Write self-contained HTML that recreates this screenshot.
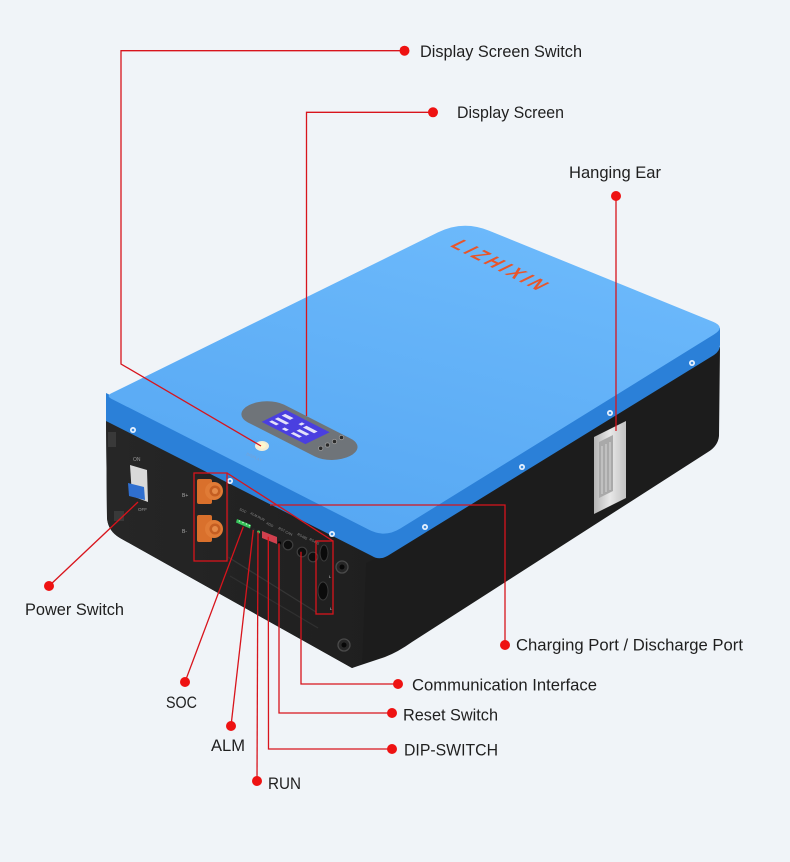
<!DOCTYPE html>
<html><head><meta charset="utf-8">
<style>
html,body{margin:0;padding:0;background:#f0f4f8;}
svg{display:block;}
text{font-family:"Liberation Sans",sans-serif;}
</style></head><body>
<svg width="790" height="862" viewBox="0 0 790 862" xmlns="http://www.w3.org/2000/svg">
<defs>
<linearGradient id="top" x1="463" y1="220" x2="385" y2="538" gradientUnits="userSpaceOnUse">
<stop offset="0" stop-color="#6cb9fb"/><stop offset="1" stop-color="#57a8f3"/>
</linearGradient>
<linearGradient id="ear" x1="594" y1="0" x2="626" y2="0" gradientUnits="userSpaceOnUse">
<stop offset="0" stop-color="#b5b5b5"/><stop offset="0.5" stop-color="#e8e8e8"/><stop offset="1" stop-color="#c2c2c2"/>
</linearGradient>
<linearGradient id="lf" x1="107" y1="0" x2="370" y2="0" gradientUnits="userSpaceOnUse">
<stop offset="0" stop-color="#262626"/><stop offset="1" stop-color="#1f1f1f"/>
</linearGradient>
</defs>
<rect width="790" height="862" fill="#f0f4f8"/>

<!-- body -->
<path d="M106,418 L380,558 L720,347 L719,436 Q718,446 708,452 L412,642 Q398,652 385,657 L352,668 L120,538 Q108,531 107,518 Z" fill="#1c1c1c"/>
<path d="M106,418 L378,557 L366,563 L362,664 L352,668 L120,538 Q108,531 107,518 Z" fill="url(#lf)"/>
<!-- lower panel lines -->
<path d="M228,557 L316,612" stroke="#353535" stroke-width="1.2"/>
<path d="M230,576 L318,628" stroke="#303030" stroke-width="1.2"/>
<path d="M228,486 L228,560" stroke="#2c2c2c" stroke-width="1"/>

<!-- band -->
<path d="M106,393 L106,421 L372,556 Q380,561 389,555 L714,355 Q720,351 720,345 L720,328 L385,532 Z" fill="#2b80d8"/>
<!-- top face -->
<path d="M111.3,398.7 L369,529.8 Q385,538 400.3,528.5 L714.1,334.4 Q726,327 713,321.7 L488.9,230.6 Q463,220 437.9,232.4 L111.4,393.3 Q106,396 111.3,398.7 Z" fill="url(#top)"/>

<!-- screws -->
<g fill="#e8f2ff" stroke="none">
<circle cx="133" cy="430" r="3"/><circle cx="230" cy="481" r="3"/><circle cx="332" cy="534" r="3"/>
<circle cx="425" cy="527" r="3"/><circle cx="522" cy="467" r="3"/><circle cx="610" cy="413" r="3"/><circle cx="692" cy="363" r="3"/>
</g>
<g fill="#3d8ee0">
<circle cx="133" cy="430" r="1.3"/><circle cx="230" cy="481" r="1.3"/><circle cx="332" cy="534" r="1.3"/>
<circle cx="425" cy="527" r="1.3"/><circle cx="522" cy="467" r="1.3"/><circle cx="610" cy="413" r="1.3"/><circle cx="692" cy="363" r="1.3"/>
</g>

<!-- logo -->
<g transform="matrix(2.79,1.42,-3.57,1.76,106,396)">
<text x="6.8" y="-90.8" font-size="5.6" textLength="31.4" fill="#e8552a" font-weight="bold">LIZHIXIN</text>
</g>

<!-- display pill in face frame -->
<g transform="matrix(2.79,1.42,3.57,-1.76,106,396)">
<rect x="28.5" y="12.8" width="36" height="10.1" rx="6" ry="5.05" fill="#6f7479"/>
<rect x="36.7" y="14.9" width="15.7" height="6.8" fill="#4a3fe0"/>
<g fill="#ffffff" opacity="0.85">
<rect x="38" y="19.5" width="3" height="1"/><rect x="38" y="17.6" width="4" height="0.9"/><rect x="38" y="16" width="2.5" height="0.8"/>
<rect x="44" y="19.5" width="1" height="1"/><rect x="46" y="19.2" width="4" height="1"/><rect x="46" y="17.4" width="3.5" height="0.9"/>
<rect x="46" y="15.8" width="3" height="0.8"/><rect x="42.8" y="15.8" width="1.5" height="0.8"/>
</g>
</g>
<!-- buttons -->
<g fill="#2a2a2a" stroke="#9a9a9a" stroke-width="0.8">
<circle cx="320.7" cy="448.3" r="2.2"/><circle cx="327.5" cy="445" r="2.2"/><circle cx="334.5" cy="441.5" r="2.2"/><circle cx="341.5" cy="437.5" r="2.2"/>
</g>
<!-- display switch -->
<ellipse cx="262" cy="446" rx="7" ry="5" fill="#f2eed8"/>
<ellipse cx="262" cy="445.5" rx="4" ry="3" fill="#fff8cc"/>
<text x="246" y="455" font-size="4" fill="#7d9fcc" transform="rotate(24 246 455)">DISPLAY</text>

<!-- hanging ear -->
<polygon points="594,437 626,421 626,498 594,514" fill="url(#ear)"/>
<polygon points="599,442 613,435 613,491 599,498" fill="#a9a9a9"/>
<path d="M602,446 L602,494 M606,444 L606,492 M610,442 L610,490" stroke="#d6d6d6" stroke-width="1"/>

<!-- power switch -->
<rect x="108" y="432" width="8" height="15" fill="#393939"/>
<rect x="114" y="511" width="10" height="10" fill="#393939"/>
<polygon points="130,465 147,470 148,502 132,496" fill="#d9d9d9"/>
<polygon points="128,483 144,487 145,500 129,496" fill="#2f6fd0"/>
<text x="133" y="461" font-size="5" fill="#9a9a9a">ON</text>
<text x="138" y="511" font-size="4.5" fill="#9a9a9a">OFF</text>

<!-- connectors -->
<text x="182" y="497" font-size="5" fill="#a8a8a8">B+</text>
<text x="182" y="533" font-size="5" fill="#a8a8a8">B-</text>
<rect x="197" y="479" width="15" height="25" rx="2" fill="#d9702c"/>
<circle cx="214" cy="491" r="9" fill="#e07b36"/>
<circle cx="215" cy="491" r="5.5" fill="#c45e22"/>
<circle cx="215" cy="491" r="3" fill="#e58a48"/>
<rect x="197" y="515" width="15" height="27" rx="2" fill="#d9702c"/>
<circle cx="214" cy="529" r="9" fill="#e07b36"/>
<circle cx="215" cy="529" r="5.5" fill="#c45e22"/>
<circle cx="215" cy="529" r="3" fill="#e58a48"/>

<!-- panel small labels -->
<g font-size="3.5" fill="#8a8a8a">
<text x="239" y="510" transform="rotate(27 239 510)">SOC</text>
<text x="250" y="514" transform="rotate(27 250 514)">ALM RUN</text>
<text x="266" y="524" transform="rotate(27 266 524)">ADD</text>
<text x="278" y="529" transform="rotate(27 278 529)">RST CAN</text>
<text x="297" y="535" transform="rotate(27 297 535)">RS485</text>
<text x="309" y="540" transform="rotate(27 309 540)">RS485</text>
</g>
<!-- LEDs -->
<polygon points="237,519 251,525 250,528.5 236,522.5" fill="#36c45a"/>
<g fill="#bff5c8"><circle cx="239.5" cy="521" r="0.8"/><circle cx="243" cy="522.5" r="0.8"/><circle cx="246.5" cy="524" r="0.8"/><circle cx="249.5" cy="525.5" r="0.8"/></g>
<circle cx="253.5" cy="529.5" r="1.3" fill="#2b2b2b"/>
<circle cx="258.5" cy="532" r="1.5" fill="#3ccf5e"/>
<!-- DIP -->
<polygon points="262,531 277,537 277,544 262,538" fill="#d0404e"/>
<circle cx="279.5" cy="543" r="1.6" fill="#050505"/>
<!-- ports -->
<g fill="#0e0e0e" stroke="#3e3e3e" stroke-width="1.2">
<circle cx="288" cy="545" r="4.8"/><circle cx="302" cy="552" r="4.8"/><circle cx="313" cy="557" r="4.8"/>
</g>
<ellipse cx="324" cy="553" rx="4" ry="8" fill="#0b0b0b" stroke="#3a3a3a"/>
<ellipse cx="323" cy="591" rx="5" ry="9" fill="#0b0b0b" stroke="#3a3a3a"/>
<text x="329" y="578" font-size="4" fill="#cfcfcf">L</text>
<text x="330" y="610" font-size="4" fill="#cfcfcf">L</text>
<!-- corner knobs -->
<g fill="#262626" stroke="#4a4a4a" stroke-width="1.3">
<circle cx="342" cy="567" r="6"/><circle cx="344" cy="645" r="6"/>
</g>
<circle cx="342" cy="567" r="2.5" fill="#070707"/><circle cx="344" cy="645" r="2.5" fill="#070707"/>

<!-- annotation lines -->
<g fill="none" stroke="#d8141c" stroke-width="1.3">
<polyline points="404.5,50.7 121,50.7 121,364 261,446"/>
<polyline points="433,112.3 306.5,112.3 306.5,416"/>
<polyline points="616,196 616,431"/>
<polyline points="49,586 138,502"/>
<polyline points="185,682 243.3,526.7"/>
<polyline points="231,726 253.3,530"/>
<polyline points="257,781 258,531.7"/>
<polyline points="392,749 268.5,749 268.3,536.7"/>
<polyline points="392,713 279,713 279,543.3"/>
<polyline points="398,684 301,684 301,551.7"/>
<polyline points="505,645 505,505 270,505"/>
<line x1="227" y1="473" x2="333" y2="541"/>
<rect x="194" y="473" width="33" height="88"/>
<rect x="316" y="541" width="17" height="73"/>
</g>
<g fill="#ee1212">
<circle cx="404.5" cy="50.7" r="5"/><circle cx="433" cy="112.3" r="5"/><circle cx="616" cy="196" r="5"/>
<circle cx="49" cy="586" r="5"/><circle cx="185" cy="682" r="5"/><circle cx="231" cy="726" r="5"/>
<circle cx="257" cy="781" r="5"/><circle cx="392" cy="749" r="5"/><circle cx="392" cy="713" r="5"/>
<circle cx="398" cy="684" r="5"/><circle cx="505" cy="645" r="5"/>
</g>

<!-- labels -->
<g font-size="17" fill="#1f1f1f">
<text x="420" y="57" textLength="162" lengthAdjust="spacingAndGlyphs">Display Screen Switch</text>
<text x="457" y="118" textLength="107" lengthAdjust="spacingAndGlyphs">Display Screen</text>
<text x="569" y="178" textLength="92" lengthAdjust="spacingAndGlyphs">Hanging Ear</text>
<text x="25" y="615" textLength="99" lengthAdjust="spacingAndGlyphs">Power Switch</text>
<text x="166" y="708" textLength="31" lengthAdjust="spacingAndGlyphs">SOC</text>
<text x="211" y="751" textLength="34" lengthAdjust="spacingAndGlyphs">ALM</text>
<text x="268" y="789" textLength="33" lengthAdjust="spacingAndGlyphs">RUN</text>
<text x="404" y="755.5" textLength="94" lengthAdjust="spacingAndGlyphs">DIP-SWITCH</text>
<text x="403" y="720.5" textLength="95" lengthAdjust="spacingAndGlyphs">Reset Switch</text>
<text x="412" y="690.5" textLength="185" lengthAdjust="spacingAndGlyphs">Communication Interface</text>
<text x="516" y="650.5" textLength="227" lengthAdjust="spacingAndGlyphs">Charging Port / Discharge Port</text>
</g>
</svg>
</body></html>
